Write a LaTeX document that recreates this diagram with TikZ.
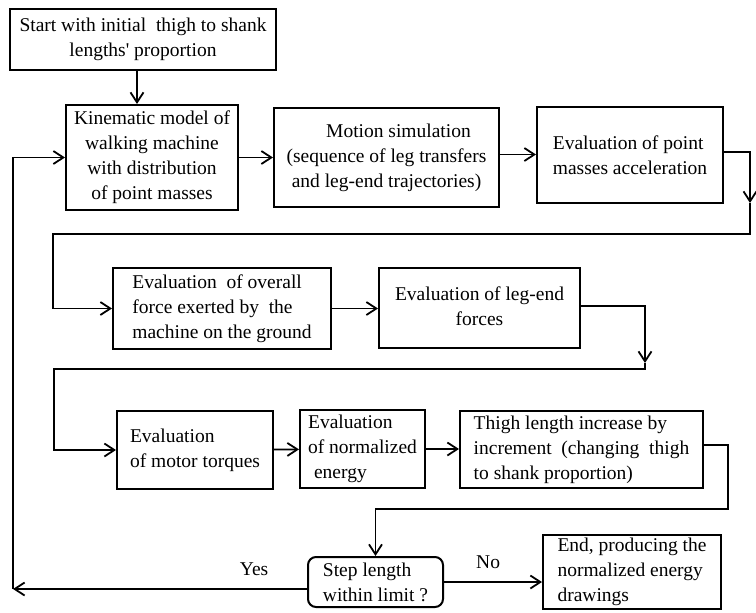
\documentclass[tikz,border=0pt]{standalone}
\usepackage{fontspec}
\setmainfont{Liberation Serif}
\usetikzlibrary{positioning,arrows.meta,calc}

\begin{document}
\begin{tikzpicture}[
  x=0.5pt, y=-0.5pt,
  font=\fontsize{9.75}{12.5}\selectfont,
  line width=0.9pt,
  >={Straight Barb[length=5pt,width=6.5pt]},
  box/.style={draw, line width=1pt, inner xsep=3pt, inner ysep=1pt, align=center},
  lbox/.style={box, align=left},
  test/.style={box, align=left, rounded corners=4pt},
  lbl/.style={inner sep=1pt}
]
\useasboundingbox (0,0) rectangle (756,612);

% ---------- baris 1 ----------
\node[box]  (start) at (143,39.5) [minimum width=133pt, minimum height=30.5pt]
      {Start with initial~~thigh to shank\\lengths\textquotesingle{} proportion};
\node[box]  (km)    at (152,157.5) [minimum width=86pt, minimum height=52.5pt]
      {Kinematic model of\\walking machine\\with distribution\\of point masses};
\node[box]  (mot)   at (386.5,157.5) [minimum width=112.5pt, minimum height=49.5pt]
      {\hspace{12pt}Motion simulation\\(sequence of leg transfers\\and leg-end trajectories)};
\node[lbox] (pm)    at (630,155) [minimum width=93pt, minimum height=48pt]
      {Evaluation of point\\masses acceleration};

% ---------- baris 2 ----------
\node[lbox] (of)    at (222,308.5) [minimum width=109pt, minimum height=40.5pt]
      {Evaluation~~of overall\\force exerted by~~the\\machine on the ground};
\node[box]  (le)    at (479.5,308) [minimum width=100.5pt, minimum height=40pt]
      {Evaluation of leg-end\\forces\vphantom{g}};

% ---------- baris 3 ----------
\node[lbox] (mt)    at (195,450) [minimum width=78pt, minimum height=39pt]
      {Evaluation\\of motor torques};
\node[lbox] (ne)    at (362.5,449) [minimum width=62.5pt, minimum height=39pt]
      {Evaluation\\of normalized\\\hspace{3pt}energy};
\node[lbox] (th)    at (581.5,449.5) [minimum width=121.5pt, minimum height=38.5pt]
      {Thigh length increase by\\increment~~(changing~~thigh\\to shank proportion)};

% ---------- keputusan ----------
\node[test] (st)    at (375.5,582) [minimum width=67.5pt, minimum height=25pt]
      {Step length\\within limit ?};
\node[lbox] (en)    at (632,572) [minimum width=89pt, minimum height=37pt]
      {End, producing the\\normalized energy\\drawings};

% ---------- titik belok ----------
\coordinate (c1) at (750,203);
\coordinate (c2) at (750,234);
\coordinate (c3) at (53,234);
\coordinate (c4) at (645,363);
\coordinate (c5) at (645,369);
\coordinate (c6) at (54,369);
\coordinate (c7) at (728,509);
\coordinate (c8) at (13,589);

% ---------- garis maju ----------
\draw[->] ([xshift=-3pt]start.south) -- ([xshift=-3pt]start.south |- km.north);
\draw[->] (km) -- (mot);
\draw[->] ([yshift=1.5pt]mot.east) -- ([yshift=1.5pt]mot.east -| pm.west);
\draw[->] ([yshift=1.5pt]pm.east) -| (c1);
\draw[->] (c1) -- (c2) -- (c3) |- (of);
\draw[->] (of) -- (of -| le.west);
\draw[->] ([yshift=1pt]le.east) -| (c4);
\draw[->] (c4) -- (c5) -- (c6) |- (mt);
\draw[->] (mt) -- (ne);
\draw[->] (ne) -- (ne -| th.west);
\draw[->] ([yshift=2.25pt]th.east) -| (c7) -| (st.north);

% ---------- cabang keputusan ----------
\draw[->] ([yshift=-3.5pt]st.west) -- (c8)
            node[lbl, pos=0.18, above=5pt]{Yes};
\draw[->] (c8) |- (km);
\draw[->] (st.east) -- (st.east -| en.west)
            node[lbl, pos=0.45, above=5pt]{No};

\end{tikzpicture}
\end{document}
